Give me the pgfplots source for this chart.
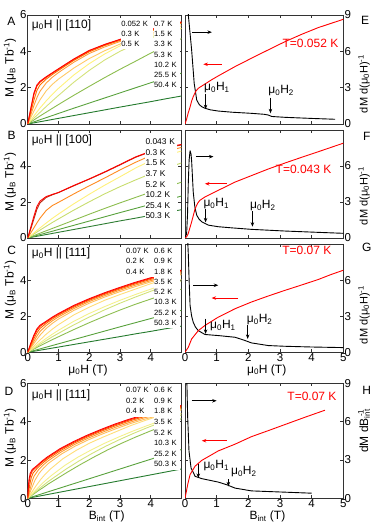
\documentclass[border=0pt]{standalone}
\usepackage{fontspec}
\setmainfont{Liberation Sans}
\usepackage{pgfplots}
\pgfplotsset{compat=1.18}
\usepackage{pgfplotstable}
\usetikzlibrary{arrows.meta}

\definecolor{a1}{HTML}{FF0000}\definecolor{a2}{HTML}{FF3A00}\definecolor{a3}{HTML}{FF7000}
\definecolor{a4}{HTML}{FF9E3D}\definecolor{a5}{HTML}{FFC966}\definecolor{a6}{HTML}{FFF27A}
\definecolor{a7}{HTML}{D4E27A}\definecolor{a8}{HTML}{8CBD4E}\definecolor{a9}{HTML}{58A13C}
\definecolor{a10}{HTML}{237A2C}
\definecolor{b2}{HTML}{B82A10}\definecolor{b3}{HTML}{FF8A1E}\definecolor{b4}{HTML}{FFF07A}
\definecolor{b5}{HTML}{C8DD6E}\definecolor{b8}{HTML}{2E7D32}
\definecolor{c2}{HTML}{FF3300}\definecolor{c3}{HTML}{FF6A00}\definecolor{c4}{HTML}{FF9A33}
\definecolor{c5}{HTML}{FFBE5C}\definecolor{c6}{HTML}{FFDD77}\definecolor{c7}{HTML}{F4F08A}
\definecolor{c8}{HTML}{D2E27A}

\newcommand\tfont{\fontsize{11.5}{13}\selectfont}
\newcommand\bfont{\fontsize{12}{14}\selectfont}
\newcommand\lfont{\fontsize{7.6}{9}\selectfont}
\newcommand\mh{μ\textsubscript{0}H}

\pgfplotstableread{
x t1 t2 t3 t4 t5 t6 t7 t8 t9 t10
0 0 0 0 0 0 0 0 0 0 0
0.1 0.85 0.8 0.65 0.5 0.35 0.22 0.16 0.11 0.058 0.031
0.2 1.7 1.6 1.3 1.0 0.7 0.44 0.32 0.22 0.116 0.062
0.3 2.15 2.08 1.85 1.45 1.03 0.66 0.48 0.33 0.174 0.093
0.4 2.35 2.3 2.15 1.8 1.33 0.88 0.64 0.44 0.232 0.124
0.6 2.6 2.56 2.47 2.25 1.82 1.27 0.96 0.65 0.348 0.186
0.8 2.82 2.79 2.72 2.57 2.18 1.63 1.27 0.86 0.464 0.248
1 3.04 3.01 2.95 2.83 2.47 1.96 1.57 1.07 0.58 0.31
1.5 3.58 3.55 3.5 3.4 3.08 2.7 2.3 1.58 0.87 0.465
2 4.05 4.02 3.97 3.88 3.6 3.32 2.95 2.07 1.15 0.62
2.5 4.38 4.36 4.32 4.24 4.03 3.85 3.52 2.55 1.43 0.775
3 4.66 4.64 4.6 4.54 4.4 4.3 4.0 3.01 1.71 0.93
3.5 4.95 4.93 4.9 4.84 4.7 4.6 4.4 3.45 1.99 1.08
4 5.2 5.18 5.15 5.1 4.97 4.86 4.74 3.9 2.27 1.23
4.5 5.42 5.4 5.37 5.33 5.2 5.08 5.02 4.3 2.54 1.39
5 5.62 5.6 5.57 5.53 5.4 5.27 5.25 4.7 2.8 1.54
}\tabA

\pgfplotstableread{
x t1 t2 t3 t4 t5 t6 t7 t8
0 0 0 0 0 0 0 0 0
0.1 0.6 0.5 0.28 0.14 0.11 0.067 0.047 0.032
0.2 1.2 1.05 0.56 0.28 0.22 0.134 0.094 0.063
0.3 1.75 1.6 0.84 0.42 0.33 0.2 0.141 0.095
0.4 2.05 1.95 1.1 0.56 0.44 0.267 0.188 0.126
0.6 2.3 2.25 1.53 0.83 0.65 0.4 0.282 0.19
0.8 2.42 2.4 1.8 1.09 0.86 0.53 0.376 0.253
1 2.53 2.52 1.98 1.33 1.06 0.66 0.47 0.316
1.5 2.92 2.9 2.45 1.9 1.55 0.99 0.705 0.474
2 3.28 3.27 2.9 2.43 2.01 1.32 0.94 0.63
2.5 3.67 3.65 3.33 2.93 2.45 1.64 1.175 0.79
3 4.08 4.06 3.78 3.4 2.85 1.95 1.41 0.95
3.5 4.5 4.48 4.2 3.88 3.22 2.25 1.64 1.1
4 4.82 4.8 4.58 4.3 3.57 2.55 1.87 1.26
4.5 5.03 5.0 4.82 4.6 3.88 2.83 2.1 1.42
5 5.2 5.17 5.03 4.83 4.17 3.1 2.33 1.57
}\tabB

\pgfplotstableread{
x t1 t2 t3 t4 t5 t6 t7 t8 t9 t10 t11
0 0 0 0 0 0 0 0 0 0 0 0
0.1 0.5 0.45 0.38 0.3 0.24 0.17 0.13 0.11 0.09 0.047 0.029
0.2 0.95 0.88 0.75 0.6 0.48 0.34 0.26 0.22 0.18 0.094 0.058
0.3 1.3 1.22 1.08 0.9 0.72 0.51 0.39 0.33 0.27 0.141 0.087
0.4 1.5 1.44 1.32 1.15 0.95 0.68 0.52 0.44 0.36 0.188 0.116
0.6 1.72 1.68 1.6 1.48 1.32 1.0 0.77 0.65 0.53 0.282 0.174
0.8 1.95 1.91 1.84 1.74 1.6 1.28 1.0 0.86 0.7 0.376 0.232
1 2.15 2.11 2.05 1.96 1.84 1.53 1.22 1.05 0.86 0.47 0.29
1.5 2.6 2.56 2.5 2.42 2.32 2.07 1.72 1.52 1.26 0.705 0.435
2 2.97 2.93 2.88 2.81 2.72 2.5 2.15 1.95 1.64 0.94 0.58
2.5 3.3 3.26 3.21 3.14 3.06 2.88 2.53 2.35 2.0 1.175 0.725
3 3.6 3.56 3.51 3.44 3.36 3.2 2.88 2.72 2.34 1.41 0.87
3.5 3.88 3.84 3.79 3.72 3.64 3.5 3.2 3.06 2.66 1.64 1.02
4 4.13 4.09 4.04 3.97 3.9 3.8 3.5 3.38 2.95 1.87 1.16
4.5 4.35 4.31 4.26 4.2 4.13 4.06 3.78 3.68 3.23 2.1 1.31
5 4.55 4.51 4.46 4.4 4.33 4.3 4.04 3.96 3.5 2.33 1.45
}\tabC

\pgfplotsset{
  base/.style={scale only axis, anchor=south west, xmin=0, xmax=5,
    xtick={0,1,2,3,4,5}, xticklabels={}, tick align=inside, major tick length=3pt,
    axis line style={line width=0.6pt, black!80},
    every tick/.style={line width=0.5pt, black!80},
    tick label style={font=\tfont, inner sep=1pt},
    /pgf/number format/assume math mode=true,
    every axis plot/.append style={no marks, line width=0.9pt, line join=round}},
  lft/.style={base, width=153.8pt, ymin=0, ymax=6, ytick={0,2,4,6}},
  rgt/.style={base, width=158.3pt, ymin=0, ymax=9, ytick={0,3,6,9}, yticklabel pos=right},
}
\tikzset{
  arr/.style={-{Stealth[length=4.5pt,width=3.5pt]}, line width=0.8pt},
  leg/.style={anchor=west, fill=white, inner xsep=0.5pt, inner ysep=0pt, text height=5.5pt,
    text depth=0pt, minimum height=10.8pt, align=left, font=\lfont},
  ann/.style={anchor=west, inner sep=0pt, font=\bfont},
}

\begin{document}
\begin{tikzpicture}[x=1pt,y=1pt]
\path[use as bounding box] (0,0) rectangle (374,529);

% ---------------- A ----------------
\begin{axis}[lft, at={(27.7pt,405pt)}, height=109pt, yticklabels={0,2,4,6}]
\addplot[a10] table[y=t10]{\tabA};
\addplot[a9] table[y=t9]{\tabA};
\addplot[a8] table[y=t8]{\tabA};
\addplot[a7] table[y=t7]{\tabA};
\addplot[a6] table[y=t6]{\tabA};
\addplot[a5] table[y=t5]{\tabA};
\addplot[a4] table[y=t4]{\tabA};
\addplot[a3] table[y=t3]{\tabA};
\addplot[a2] table[y=t2]{\tabA};
\addplot[a1] table[y=t1]{\tabA};
\end{axis}
\begin{axis}[rgt, at={(185pt,405pt)}, height=109pt, yticklabels={0,3,6,9}]
\addplot[black] coordinates {(0.08,12) (0.105,9.0) (0.21,6.1) (0.29,3.36) (0.37,1.98) (0.45,1.6) (0.53,1.43) (0.63,1.3) (0.8,1.17) (1.05,1.07) (1.5,0.97) (2.1,0.88) (2.5,0.8) (2.63,0.74) (2.74,0.62) (3.16,0.55) (4,0.46) (4.74,0.39)};
\addplot[red] coordinates {(0,0) (0.05,0.4) (0.1,0.9) (0.16,1.4) (0.21,1.9) (0.26,2.26) (0.34,2.7) (0.42,2.95) (0.63,3.3) (0.84,3.65) (1.05,3.97) (1.58,4.74) (2.1,5.43) (2.63,6.12) (3.16,6.8) (3.69,7.41) (4.21,7.96) (4.95,8.6) (5,8.65)};
\draw[arr, black] (axis cs:0.23,7.58) -- (axis cs:0.85,7.58);
\draw[arr, red] (axis cs:1.16,4.93) -- (axis cs:0.58,4.93);
\node[ann] at (axis cs:0.6,2.97) {\mh\textsubscript{1}};
\draw[arr, black] (axis cs:0.65,2.5) -- (axis cs:0.65,1.22);
\node[ann] at (axis cs:2.63,2.75) {\mh\textsubscript{2}};
\draw[arr, black] (axis cs:2.7,2.17) -- (axis cs:2.7,0.88);
\node[ann, anchor=east, text=red] at (axis cs:4.85,6.67) {T=0.052 K};
\end{axis}

% ---------------- B ----------------
\begin{axis}[lft, at={(27.7pt,291pt)}, height=108pt, yticklabels={0,2,4,{}}]
\addplot[b8] table[y=t8]{\tabB};
\addplot[a9] table[y=t7]{\tabB};
\addplot[a8] table[y=t6]{\tabB};
\addplot[b5] table[y=t5]{\tabB};
\addplot[b4] table[y=t4]{\tabB};
\addplot[b3] table[y=t3]{\tabB};
\addplot[b2] table[y=t2]{\tabB};
\addplot[a1] table[y=t1]{\tabB};
\end{axis}
\begin{axis}[rgt, at={(185pt,291pt)}, height=108pt, yticklabels={0,3,6,{}}]
\addplot[black] coordinates {(0,0.1) (0.05,0.3) (0.08,2.0) (0.105,4.66) (0.13,6.5) (0.16,7.27) (0.19,7.0) (0.21,6.4) (0.26,3.83) (0.31,2.6) (0.37,1.9) (0.45,1.55) (0.53,1.35) (0.74,1.07) (1.05,0.94) (1.5,0.84) (2.1,0.72) (3.16,0.58) (4.21,0.47) (5,0.39)};
\addplot[red] coordinates {(0,0) (0.05,0.1) (0.1,0.35) (0.21,1.35) (0.32,2.45) (0.4,2.9) (0.47,3.14) (0.63,3.42) (1.05,3.97) (1.58,4.66) (2.1,5.2) (2.63,5.75) (3.16,6.25) (3.69,6.73) (4.21,7.19) (5,7.9)};
\draw[arr, black] (axis cs:0.34,6.78) -- (axis cs:0.9,6.78);
\draw[arr, red] (axis cs:1.32,4.52) -- (axis cs:0.63,4.52);
\node[ann] at (axis cs:0.58,2.86) {\mh\textsubscript{1}};
\draw[arr, black] (axis cs:0.65,2.45) -- (axis cs:0.65,1.3);
\node[ann] at (axis cs:2.05,2.73) {\mh\textsubscript{2}};
\draw[arr, black] (axis cs:2.13,2.23) -- (axis cs:2.13,0.94);
\node[ann, anchor=east, text=red] at (axis cs:4.63,5.76) {T=0.043 K};
\end{axis}

% ---------------- C ----------------
\begin{axis}[lft, at={(27.7pt,176.7pt)}, height=108.3pt, yticklabels={0,2,4,{}}, xticklabels={0,1,2,3,4,{}}]
\addplot[a10] table[y=t11]{\tabC};
\addplot[a9] table[y=t10]{\tabC};
\addplot[a8] table[y=t9]{\tabC};
\addplot[c8] table[y=t8]{\tabC};
\addplot[c7] table[y=t7]{\tabC};
\addplot[c6] table[y=t6]{\tabC};
\addplot[c5] table[y=t5]{\tabC};
\addplot[c4] table[y=t4]{\tabC};
\addplot[c3] table[y=t3]{\tabC};
\addplot[c2] table[y=t2]{\tabC};
\addplot[a1] table[y=t1]{\tabC};
\end{axis}
\begin{axis}[rgt, at={(185pt,176.7pt)}, height=108.3pt, yticklabels={0,3,6,{}}, xticklabels={0,1,2,3,4,5}]
\addplot[black] coordinates {(0.07,12) (0.09,9.0) (0.105,8.1) (0.13,6) (0.16,3.9) (0.21,3.0) (0.26,2.5) (0.33,2.1) (0.42,1.8) (0.63,1.48) (1.05,1.39) (1.58,1.25) (1.84,1.03) (2.1,0.78) (2.63,0.56) (3.16,0.5) (4,0.44) (5,0.39)};
\addplot[red] coordinates {(0,0) (0.05,0.2) (0.105,0.42) (0.21,1.11) (0.42,1.8) (0.63,2.23) (1.05,2.92) (1.58,3.62) (2.1,4.18) (2.63,4.68) (3.16,5.15) (3.69,5.6) (4.21,6.05) (4.6,6.45) (5,6.82)};
\draw[arr, black] (axis cs:0.26,5.57) -- (axis cs:1.05,5.57);
\draw[arr, red] (axis cs:1.68,4.51) -- (axis cs:0.84,4.51);
\node[ann] at (axis cs:0.79,2.23) {\mh\textsubscript{1}};
\draw[arr, black] (axis cs:0.65,2.79) -- (axis cs:0.65,1.53);
\node[ann] at (axis cs:1.95,2.7) {\mh\textsubscript{2}};
\draw[arr, black] (axis cs:1.98,2.23) -- (axis cs:1.98,1.11);
\node[ann, anchor=east, text=red] at (axis cs:4.63,8.5) {T=0.07 K};
\end{axis}

% ---------------- D ----------------
\begin{axis}[lft, at={(27.7pt,30.7pt)}, height=114.9pt, yticklabels={0,2,4,6}, xticklabels={0,1,2,3,4,{}}]
\addplot[a10] coordinates {(0,0) (5,1.53)};
\addplot[a9] coordinates {(0,0) (5,2.55)};
\addplot[a8] coordinates {(0,0) (0.085,0.097) (0.169,0.194) (0.254,0.29) (0.339,0.39) (0.51,0.57) (0.681,0.76) (0.854,0.93) (1.286,1.36) (1.721,1.77) (2.16,2.16) (2.602,2.53) (3.048,2.87) (3.498,3.19) (3.951,3.49) (4.405,3.78) (5,4.16)};
\addplot[c8] coordinates {(0,0) (0.081,0.11) (0.163,0.22) (0.244,0.33) (0.325,0.44) (0.489,0.65) (0.654,0.86) (0.821,1.05) (1.242,1.52) (1.668,1.95) (2.1,2.35) (2.538,2.72) (2.98,3.06) (3.425,3.38) (3.874,3.68) (4.327,3.96) (5,4.35)};
\addplot[c7] coordinates {(0,0) (0.078,0.13) (0.156,0.26) (0.234,0.39) (0.312,0.52) (0.469,0.77) (0.63,1.0) (0.793,1.22) (1.208,1.72) (1.634,2.15) (2.07,2.53) (2.51,2.88) (2.956,3.2) (3.405,3.5) (3.857,3.78) (4.313,4.04) (5,4.43)};
\addplot[c6] coordinates {(0,0) (0.071,0.17) (0.142,0.34) (0.213,0.51) (0.284,0.68) (0.43,1.0) (0.582,1.28) (0.74,1.53) (1.148,2.07) (1.575,2.5) (2.01,2.88) (2.456,3.2) (2.905,3.5) (3.354,3.8) (3.81,4.06) (4.269,4.3) (5,4.62)};
\addplot[c5] coordinates {(0,0) (0.059,0.24) (0.118,0.48) (0.178,0.72) (0.238,0.95) (0.376,1.32) (0.528,1.6) (0.687,1.84) (1.106,2.32) (1.538,2.72) (1.98,3.06) (2.429,3.36) (2.881,3.64) (3.337,3.9) (3.798,4.13) (4.264,4.33) (5,4.63)};
\addplot[c4] coordinates {(0,0) (0.049,0.3) (0.098,0.6) (0.147,0.9) (0.204,1.15) (0.348,1.48) (0.504,1.74) (0.667,1.96) (1.089,2.42) (1.522,2.81) (1.966,3.14) (2.415,3.44) (2.868,3.72) (3.325,3.97) (3.786,4.2) (4.252,4.4) (5,4.7)};
\addplot[c3] coordinates {(0,0) (0.035,0.38) (0.072,0.75) (0.116,1.08) (0.176,1.32) (0.328,1.6) (0.487,1.84) (0.651,2.05) (1.075,2.5) (1.51,2.88) (1.954,3.21) (2.403,3.51) (2.856,3.79) (3.313,4.04) (3.776,4.26) (4.242,4.46) (5,4.76)};
\addplot[c2] coordinates {(0,0) (0.023,0.45) (0.05,0.88) (0.093,1.22) (0.155,1.44) (0.314,1.68) (0.475,1.91) (0.641,2.11) (1.065,2.56) (1.502,2.93) (1.946,3.26) (2.395,3.56) (2.847,3.84) (3.305,4.09) (3.767,4.31) (4.233,4.51) (5,4.81)};
\addplot[a1] coordinates {(0,0) (0.015,0.5) (0.04,0.95) (0.08,1.3) (0.145,1.5) (0.31,1.72) (0.47,1.95) (0.63,2.15) (1.06,2.6) (1.5,2.97) (1.94,3.3) (2.39,3.6) (2.84,3.88) (3.3,4.13) (3.76,4.35) (4.23,4.55) (5,4.85)};
\end{axis}
\begin{axis}[rgt, at={(185pt,30.7pt)}, height=114.9pt, yticklabels={0,3,6,9}, xticklabels={0,1,2,3,4,5}]
\addplot[black] coordinates {(0.04,12) (0.06,9) (0.084,6.37) (0.126,3.71) (0.19,2.39) (0.32,1.72) (0.53,1.54) (0.84,1.38) (1.05,1.27) (1.32,1.06) (1.58,0.8) (2.1,0.58) (3.16,0.48) (4.0,0.4)};
\addplot[red] coordinates {(0,0) (0.04,0.5) (0.084,1.06) (0.16,1.86) (0.32,2.52) (0.53,2.97) (1.05,3.71) (1.58,4.24) (2.1,4.83) (2.63,5.3) (3.16,5.78) (3.79,6.35) (4.42,6.9)};
\draw[arr, black] (axis cs:0.21,7.64) -- (axis cs:1.0,7.64);
\draw[arr, red] (axis cs:1.32,4.51) -- (axis cs:0.53,4.51);
\node[ann] at (axis cs:0.58,2.57) {\mh\textsubscript{1}};
\draw[arr, black] (axis cs:0.42,2.65) -- (axis cs:0.42,1.59);
\node[ann] at (axis cs:1.45,2.07) {\mh\textsubscript{2}};
\draw[arr, black] (axis cs:1.37,1.51) -- (axis cs:1.37,0.93);
\node[ann, anchor=east, text=red] at (axis cs:4.79,8.0) {T=0.07 K};
\end{axis}

% ---------------- legends ----------------
\foreach \t/\y in {0.052/505.3, 0.3/495.1, 0.5/484.9}
  \node[leg, text width=31.5pt] at (120.7,\y) {\t~K};
\foreach \t/\y in {0.7/505.3, 1.5/495.1, 3.3/484.9, 5.3/474.7, 10.2/464.5, 25.5/454.3, 50.4/444.1}
  \node[leg, text width=25pt] at (153.5,\y) {\t~K};
\foreach \t/\y in {0.043/387, 0.3/376.4, 1.5/365.8, 3.7/355.2, 5.2/344.6, 10.2/334, 25.4/323.4, 50.3/312.8}
  \node[leg, text width=30.7pt, font=\fontsize{8.4}{10}\selectfont] at (144.8,\y) {\t~K};
\foreach \t/\y in {0.07/278.3, 0.2/268, 0.4/257.7}
  \node[leg, text width=27pt] at (125.5,\y) {\t~K};
\foreach \t/\y in {0.6/278.3, 0.9/268, 1.8/257.7, 3.5/247.5, 5.2/237.2, 10.3/226.9, 25.2/216.7, 50.3/206.4}
  \node[leg, text width=25pt] at (153.5,\y) {\t~K};
\foreach \t/\y in {0.07/139, 0.2/128.4, 0.4/117.8}
  \node[leg, text width=27pt] at (125.5,\y) {\t~K};
\foreach \t/\y in {0.6/139, 0.9/128.4, 1.8/117.8, 3.5/107.2, 5.2/96.6, 10.3/86, 25.2/75.4, 50.3/64.8}
  \node[leg, text width=25pt] at (153.5,\y) {\t~K};

% ---------------- titles ----------------
\node[ann] at (31.7,504) {\mh\ || [110]};
\node[ann] at (31.7,389) {\mh\ || [100]};
\node[ann] at (31.7,275.7) {\mh\ || [111]};
\node[ann] at (31.7,134) {\mh\ || [111]};

% ---------------- panel letters ----------------
\foreach \l/\x/\y in {A/11.3/507.5, B/11.7/394, C/11.7/279, D/9/138, E/365/509, F/366.7/392.3, G/366.7/281.3, H/366.7/139}
  \node[font=\bfont, inner sep=0pt] at (\x,\y) {\l};

% ---------------- axis labels ----------------
\foreach \y in {461, 347, 239, 91}
  \node[rotate=90, font=\bfont, inner sep=0pt] at (10,\y) {M (μ\textsubscript{B} Tb\textsuperscript{-1})};
\foreach \y in {445, 333, 214}
  \node[rotate=90, font=\fontsize{11}{13}\selectfont, inner sep=0pt] at (364,\y) {dM d(\mh)\textsuperscript{-1}};
\node[rotate=90, font=\bfont, inner sep=0pt] at (364,98) {dM dB\textsubscript{int}\llap{\textsuperscript{-1}}};
\node[font=\bfont, inner sep=0pt] at (88,159) {\mh\ (T)};
\node[font=\bfont, inner sep=0pt] at (266.7,159) {\mh\ (T)};
\node[font=\bfont, inner sep=0pt] at (106.7,12.3) {B\textsubscript{int} (T)};
\node[font=\bfont, inner sep=0pt] at (267.5,12.3) {B\textsubscript{int} (T)};
\end{tikzpicture}
\end{document}
